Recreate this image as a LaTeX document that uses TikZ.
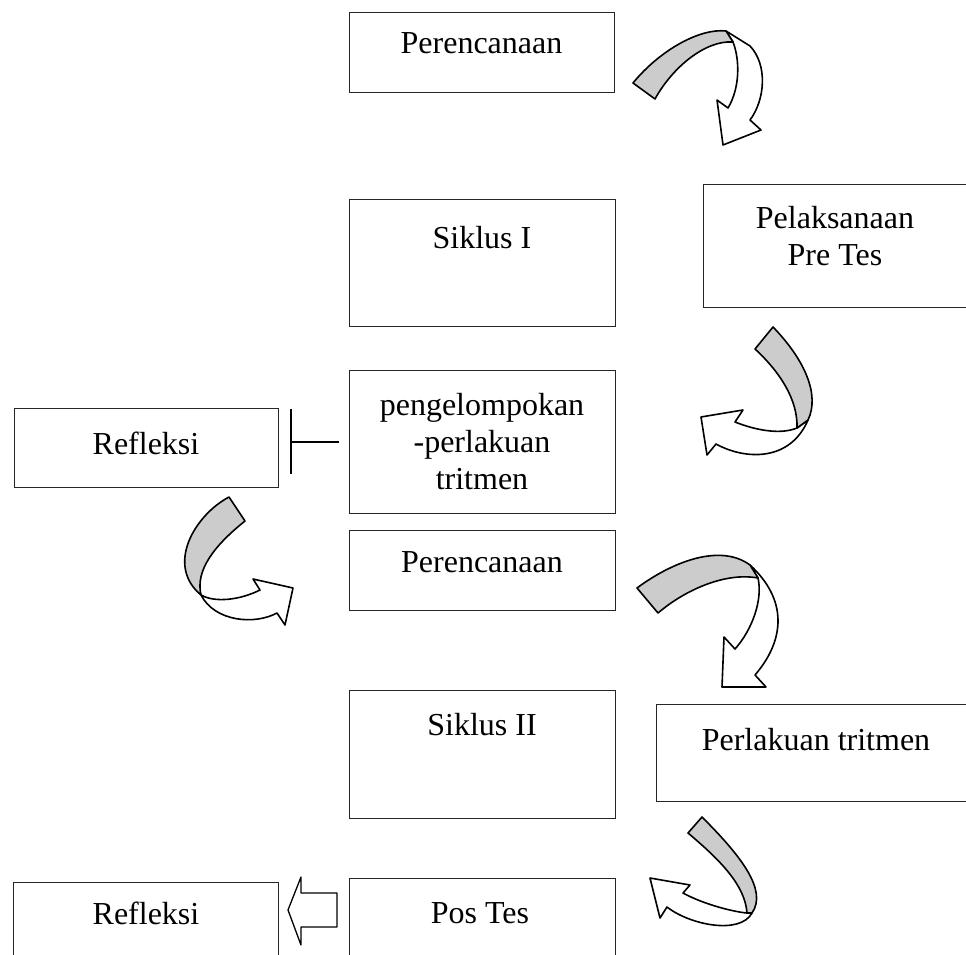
\documentclass[tikz,border=0pt]{standalone}
\usepackage{fontspec}
\setmainfont{Liberation Serif}
\definecolor{argray}{RGB}{204,204,204}
\begin{document}
\begin{tikzpicture}[x=1pt,y=-1pt,
  box/.style={draw=black!85, line width=0.9pt, inner sep=0pt, anchor=north west},
  lbl/.style={font=\fontsize{32}{37}\selectfont, inner sep=0pt, anchor=base},
  rib/.style={draw=black, line width=1.6pt, line join=round},
  ribgray/.style={rib, fill=argray},
  ribwhite/.style={rib, fill=white}]
\useasboundingbox (0,0) rectangle (966,955);
\clip (0,0) rectangle (966,955);

% boxes
\node[box, minimum width=265pt, minimum height=80pt]  (b1)  at (349,12)  {};
\node[box, minimum width=266pt, minimum height=127pt] (b2)  at (349,199) {};
\node[box, minimum width=300pt, minimum height=123pt] (b3)  at (703,184) {};
\node[box, minimum width=266pt, minimum height=143pt] (b4)  at (349,370) {};
\node[box, minimum width=264pt, minimum height=79pt]  (b5)  at (14,408)  {};
\node[box, minimum width=266pt, minimum height=80pt]  (b6)  at (349,530) {};
\node[box, minimum width=266pt, minimum height=128pt] (b7)  at (349,690) {};
\node[box, minimum width=320pt, minimum height=97pt]  (b8)  at (656,704) {};
\node[box, minimum width=266pt, minimum height=100pt] (b9)  at (349,878) {};
\node[box, minimum width=265pt, minimum height=100pt] (b10) at (13,882)  {};

% labels
\node[lbl] (t1)  at (481.5,54) {Perencanaan};
\node[lbl] (t2)  at (482,248)  {Siklus I};
\node[lbl] (t3a) at (835,228)  {Pelaksanaan};
\node[lbl] (t3b) at (835,265)  {Pre Tes};
\node[lbl] (t4a) at (482,415)  {pengelompokan};
\node[lbl] (t4b) at (482,452)  {-perlakuan};
\node[lbl] (t4c) at (482,489)  {tritmen};
\node[lbl] (t5)  at (146,454)  {Refleksi};
\node[lbl] (t6)  at (482,572)  {Perencanaan};
\node[lbl] (t7)  at (482,735)  {Siklus II};
\node[lbl] (t8)  at (816,750)  {Perlakuan tritmen};
\node[lbl] (t9)  at (480,923)  {Pos Tes};
\node[lbl] (t10) at (146,924)  {Refleksi};

% T-bar connector between b4 and b5
\coordinate (tb1) at (339,442);
\coordinate (tb2) at (291,442);
\coordinate (tbu) at (291,409);
\coordinate (tbd) at (291,474);
\draw[line width=1.4pt] (tb1) -- (tb2);
\draw[line width=1.4pt] (tbu) -- (tbd);

% curved arrow A1 (top)
\draw[ribwhite] (726,31) -- (750,46) .. controls (768,65) and (765,100) .. (750,120) -- (761,130) -- (723,145) -- (717,100) -- (728,108) .. controls (740,88) and (740,60) .. (733,42) -- cycle;
\draw[ribgray] (633,83) .. controls (660,50) and (700,28) .. (726,31) -- (733,42) .. controls (705,40) and (672,68) .. (655,99) -- cycle;

% curved arrow A2
\draw[ribwhite] (797,428) .. controls (780,435) and (755,430) .. (735,422) -- (743,410) -- (701,417) -- (707,455) -- (716,444) .. controls (745,460) and (790,462) .. (808,420) -- cycle;
\draw[ribgray] (755,349) -- (773,327) .. controls (805,360) and (820,395) .. (808,420) -- (797,428) .. controls (798,400) and (780,372) .. (755,349) -- cycle;

% curved arrow A3 (left)
\draw[ribwhite] (201,595) .. controls (215,603) and (240,600) .. (260,590) -- (253,579) -- (293,588) -- (285,625) -- (277,613) .. controls (255,625) and (215,622) .. (201,595) -- cycle;
\draw[ribgray] (229,497) -- (245,521) .. controls (215,545) and (195,570) .. (201,595) .. controls (165,565) and (195,515) .. (229,497) -- cycle;

% curved arrow A4
\draw[ribwhite] (750,565) .. controls (788,600) and (785,640) .. (755,675) -- (766,687) -- (722,687) -- (724,637) -- (735,649) .. controls (752,630) and (763,600) .. (758,578) -- cycle;
\draw[ribgray] (637,588) .. controls (672,562) and (720,543) .. (750,565) -- (758,578) .. controls (725,572) and (685,590) .. (658,613) -- cycle;

% curved arrow A5 (bottom)
\draw[ribwhite] (747,913) .. controls (735,912) and (705,905) .. (683,893) -- (690,885) -- (650,878) -- (660,918) -- (667,907) .. controls (690,925) and (740,935) .. (752,913) -- cycle;
\draw[ribgray] (688,833) -- (702,817) .. controls (740,855) and (768,890) .. (752,913) -- (747,913) .. controls (745,885) and (720,860) .. (688,833) -- cycle;

% block arrow Pos Tes -> Refleksi
\draw[rib, line width=1.3pt, fill=white] (337,893) -- (301,893) -- (301,877) -- (288,910) -- (301,945) -- (301,927) -- (337,927) -- cycle;
\end{tikzpicture}
\end{document}
